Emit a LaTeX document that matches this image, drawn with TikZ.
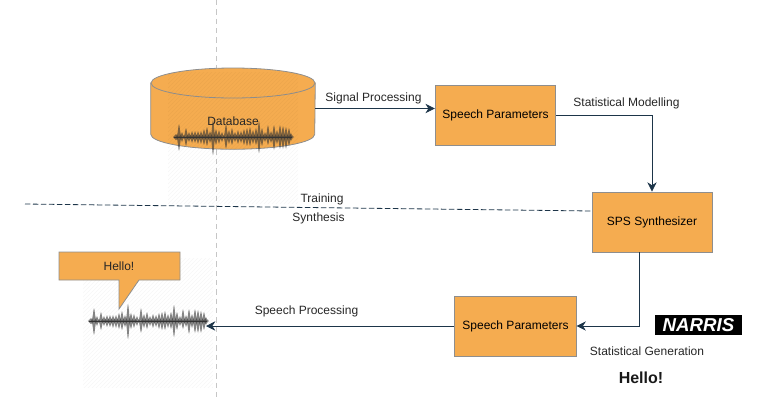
\documentclass[tikz,border=0pt]{standalone}
\usepackage{fontspec}
\setmainfont{Liberation Sans}
\definecolor{boxorange}{HTML}{F5AC50}
\definecolor{boxgrey}{HTML}{8E8E8E}
\definecolor{linenavy}{HTML}{1D3549}
\usetikzlibrary{arrows.meta, positioning, patterns, calc}
\tikzset{
  parambox/.style={draw=boxgrey, fill=boxorange, line width=0.6pt, align=center, font=\fontsize{9}{11}\selectfont},
  flowline/.style={draw=linenavy, line width=0.6pt, -{Stealth[length=7pt,width=7pt]}},
  steplabel/.style={font=\fontsize{9}{11}\selectfont, text=black!85},
  hatchbg/.style={pattern=north east lines, pattern color=black, opacity=0.035},
  spike/.style={fill=black!80, draw=none, opacity=0.6},
  wavepic/.pic={
    \foreach \sx/\hup/\hdn in {2/3/3,5/13/14,8/5/5,12/9/9,15/5/5,18/6/6,21/6/6,24/6/7,27/6/7,30/8/8,
      33/10/9,36/6/6,39/17/18,42/8/8,45/7/7,48/5/5,52/13/12,55/7/7,58/9/8,61/5/5,64/7/7,67/6/6,70/8/8,
      73/9/9,76/10/9,79/7/7,82/9/8,85/16/16,88/9/9,91/5/5,94/12/8,97/6/6,100/12/13,103/7/7,106/12/12,
      109/11/12,112/10/12,115/9/9,117/4/4}
      \fill[spike] (\sx-3,0) .. controls (\sx-1,-1) and (\sx-1,-\hup+2) .. (\sx,-\hup)
        .. controls (\sx+1,-\hup+2) and (\sx+1,-1) .. (\sx+3,0)
        .. controls (\sx+1,1) and (\sx+1,\hdn-2) .. (\sx,\hdn)
        .. controls (\sx-1,\hdn-2) and (\sx-1,1) .. cycle;
    \draw[black!80, line width=0.5pt] (0,0) -- (118,0);
  },
}

\begin{document}
\begin{tikzpicture}[x=0.75pt, y=-0.75pt]
  \useasboundingbox (0,0) rectangle (781,400);
  \draw[boxgrey!50, dash pattern=on 4pt off 3pt, line width=0.6pt] (216,0) -- (216,400);
  \draw[linenavy, dash pattern=on 4pt off 2pt, line width=0.6pt] (25,204) -- (592,211);

  % database with its sound
  \node[inner sep=0pt, minimum width=123pt, minimum height=38.25pt] (database) at (233,108.5) {};
  \draw[draw=boxgrey, fill=boxorange, line width=0.6pt] (database.north west) -- (database.south west)
    arc[start angle=180, end angle=0, x radius=82, y radius=15] -- (database.north east);
  \draw[boxgrey, line width=0.6pt, fill=boxorange] (233,83) ellipse (82 and 15);
  \fill[hatchbg] (168,72) rectangle (298,203);
  \pic at (174,137) {wavepic};
  \node[steplabel] (dblabel) at (233,121) {Database};

  % boxes
  \node[parambox, minimum width=90.5pt, minimum height=45pt] (params) at (495.5,115.5) {Speech Parameters};
  \node[parambox, minimum width=90pt, minimum height=45pt] (synth) at (652,222) {SPS Synthesizer};
  \node[parambox, minimum width=91pt, minimum height=45pt] (genparams) at (515.5,326) {Speech Parameters};

  % output sound
  \fill[hatchbg] (83,258) rectangle (213,387);
  \pic at (89,321) {wavepic};
  \coordinate (waveend) at (206,326);
  \draw[draw=boxgrey, fill=boxorange, line width=0.6pt]
    (59,252) -- (180,252) -- (180,280) -- (139,280) -- (119,309) -- (119,280) -- (59,280) -- cycle;
  \node[steplabel] (hello) at (119,266) {Hello!};

  % connectors
  \draw[flowline] (database.east) -- (database.east -| params.west);
  \coordinate (modelturn) at (652,115.5);
  \draw[flowline] (params.east) -- (modelturn) -- (synth.north);
  \coordinate (genturn) at (639,326);
  \draw[flowline] (synth.south -| genturn) -- (genturn) -- (genparams.east);
  \draw[flowline] (genparams.west) -- (waveend);

  % labels
  \node[steplabel] (signal) at (373.5,98) {Signal Processing};
  \node[steplabel] (modelling) at (626.5,103) {Statistical Modelling};
  \node[steplabel] (training) at (322,199) {Training};
  \node[steplabel] (synthesis) at (318.5,218) {Synthesis};
  \node[steplabel] (processing) at (306.5,311) {Speech Processing};
  \node[steplabel] (generation) at (647,351) {Statistical Generation};
  \node[fill=black, text=white, inner sep=0pt, minimum width=65pt, minimum height=15pt,
        font=\fontsize{14}{14}\selectfont\bfseries\itshape] (narris) at (698.5,325) {NARRIS};
  \node[font=\fontsize{12}{14}\selectfont\bfseries, text=black!90] (hellobig) at (641,377.5) {Hello!};
\end{tikzpicture}
\end{document}
